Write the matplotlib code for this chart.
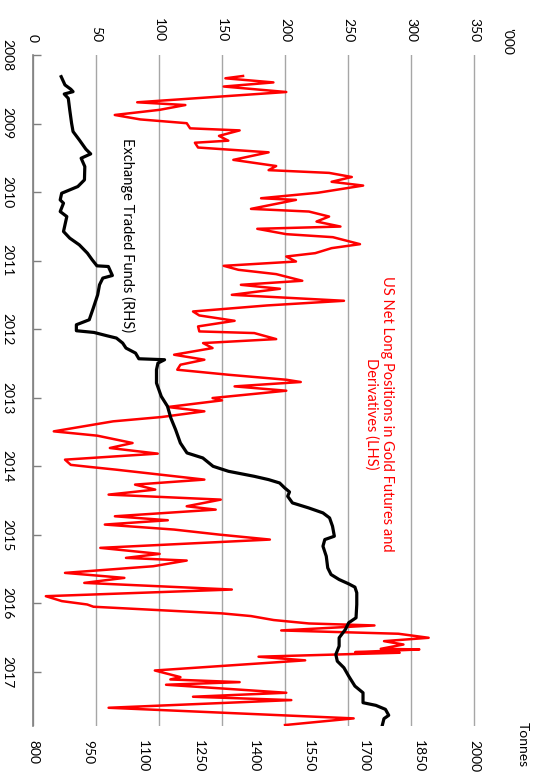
import numpy as np
import matplotlib
matplotlib.use("Agg")
import matplotlib.pyplot as plt

plt.rcParams['font.family'] = ['Lato', 'DejaVu Sans']

# US net long positions in gold futures & derivatives ('000, LHS)
red_t = [2008.306, 2008.34, 2008.40, 2008.46, 2008.54, 2008.69, 2008.73, 2008.80, 2008.875, 2008.94,
         2008.995, 2009.07, 2009.10, 2009.18, 2009.25, 2009.28, 2009.35, 2009.42, 2009.53, 2009.62,
         2009.68, 2009.72, 2009.78, 2009.85, 2009.905, 2010.01, 2010.09, 2010.114, 2010.245, 2010.284,
         2010.357, 2010.43, 2010.503, 2010.536, 2010.614, 2010.658, 2010.76, 2010.818, 2010.891, 2010.94,
         2011.013, 2011.076, 2011.134, 2011.197, 2011.294, 2011.353, 2011.411, 2011.499, 2011.586, 2011.654,
         2011.742, 2011.80, 2011.878, 2011.96, 2012.033, 2012.057, 2012.145, 2012.203, 2012.276, 2012.373,
         2012.446, 2012.519, 2012.592, 2012.665, 2012.738, 2012.771, 2012.835, 2012.898, 2013.005, 2013.039,
         2013.136, 2013.199, 2013.282, 2013.345, 2013.491, 2013.554, 2013.661, 2013.734, 2013.816, 2013.904,
         2013.98, 2014.01, 2014.05, 2014.195, 2014.268, 2014.341, 2014.414, 2014.487, 2014.584, 2014.633,
         2014.73, 2014.788, 2014.851, 2014.924, 2014.997, 2015.07, 2015.191, 2015.279, 2015.337, 2015.376,
         2015.459, 2015.556, 2015.629, 2015.702, 2015.799, 2015.896, 2015.968, 2016.017, 2016.05, 2016.147,
         2016.186, 2016.244, 2016.294, 2016.323, 2016.396, 2016.444, 2016.503, 2016.552, 2016.601, 2016.664,
         2016.673, 2016.712, 2016.721, 2016.779, 2016.832, 2016.98, 2017.077, 2017.111, 2017.15, 2017.188,
         2017.305, 2017.363, 2017.412, 2017.524, 2017.679, 2017.776]
red_v = [166.7, 152.7, 190.8, 151.4, 201, 82.7, 120.9, 100.5, 64.9, 85.2,
         122, 124.7, 164, 147.6, 155, 128.5, 131, 187, 159, 193,
         187, 235, 253, 237, 262, 226, 181, 208.7, 173, 219,
         235, 225, 244, 178, 201, 238, 259.5, 237, 224, 201,
         208.7, 151.4, 163, 193, 213.7, 165, 196, 157.8, 246.8, 185.8,
         127, 132, 160, 131, 132, 175.6, 193, 135, 142.5, 112,
         136, 117, 114.5, 155, 201, 212.5, 160, 201, 142.5, 150,
         107, 136, 102, 63.6, 16.5, 51, 79, 61, 99, 25.4,
         30, 45, 66, 136, 81, 97, 60, 149, 122, 145,
         65, 107, 57, 112, 147.6, 188, 53.4, 100.5, 73.8, 122,
         95.4, 25.4, 72.5, 40.7, 157.8, 10.2, 22.9, 43, 48, 150,
         173, 191, 219, 271, 197, 290, 314, 278.6, 294, 276,
         306.6, 255.7, 291, 179, 216, 96.7, 117, 109, 164, 105.6,
         201, 127, 205, 60, 254.5, 200]

# Exchange traded funds holdings (tonnes, RHS)
etf_t = [2008.316, 2008.437, 2008.50, 2008.535, 2008.569, 2008.632, 2008.802, 2008.996, 2009.117, 2009.239,
         2009.375, 2009.443, 2009.506, 2009.628, 2009.822, 2009.919, 2010.017, 2010.114, 2010.162, 2010.284,
         2010.357, 2010.478, 2010.575, 2010.672, 2010.77, 2010.891, 2010.988, 2011.076, 2011.086, 2011.217,
         2011.255, 2011.353, 2011.499, 2011.693, 2011.863, 2011.936, 2012.023, 2012.048, 2012.096, 2012.13,
         2012.203, 2012.276, 2012.349, 2012.432, 2012.446, 2012.495, 2012.592, 2012.786, 2012.981, 2013.126,
         2013.296, 2013.466, 2013.661, 2013.806, 2013.879, 2014.001, 2014.074, 2014.147, 2014.195, 2014.244,
         2014.317, 2014.375, 2014.438, 2014.535, 2014.608, 2014.681, 2014.754, 2014.876, 2015.021, 2015.07,
         2015.167, 2015.313, 2015.483, 2015.58, 2015.653, 2015.716, 2015.764, 2015.847, 2016.017, 2016.211,
         2016.284, 2016.382, 2016.503, 2016.625, 2016.746, 2016.844, 2016.94, 2017.062, 2017.208, 2017.305,
         2017.45, 2017.489, 2017.547, 2017.634, 2017.683, 2017.79]
etf_v = [876.7, 887, 903, 909, 885, 896, 900, 905, 909, 926,
         944, 957, 931, 941, 940, 922, 878, 874, 883, 874,
         892, 887, 883, 900, 926, 948, 961, 974, 1005, 1016,
         990, 981, 976, 964, 953, 918, 918, 966, 1001, 1027,
         1044, 1053, 1079, 1088, 1158, 1140, 1136, 1136, 1149, 1166,
         1175, 1188, 1201, 1219, 1262, 1290, 1332, 1402, 1441, 1471,
         1485, 1498, 1493, 1506, 1550, 1589, 1607, 1615, 1620, 1594,
         1589, 1598, 1602, 1611, 1633, 1659, 1676, 1681, 1681, 1679,
         1659, 1650, 1633, 1633, 1624, 1628, 1646, 1659, 1676, 1698,
         1698, 1733, 1759, 1768, 1755, 1750]

lhs_ticks = list(range(0, 351, 50))
rhs_ticks = list(range(800, 2001, 150))
years = list(range(2008, 2018))

W, H = 541, 778
x0, x350, x_edge = 33, 474, 478          # pixel columns: value 0, value 350, axes edge
stretch = (x_edge - x0) / (x350 - x0)    # extend the axes a little so the 350 gridline is inside
fig = plt.figure(figsize=(W / 100, H / 100), dpi=100)
ax = fig.add_axes([x0 / W, 1 - 726 / H, (x_edge - x0) / W, (726 - 55) / H])
axr = ax.twiny()   # tonnes axis (drawn on top), make twin first so tick sides stick

ax.set_xlim(0, 350 * stretch)
ax.set_ylim(2017.79, 2008)
ax.grid(axis='x', color='#a6a6a6', lw=1)
ax.set_axisbelow(True)
ax.plot(red_v, red_t, color='#ff0000', lw=1.8, zorder=3)
ax.xaxis.set_ticks_position('top')
ax.xaxis.set_label_position('top')
ax.set_xticks(lhs_ticks)
ax.set_xticklabels([str(v) for v in lhs_ticks], rotation=-90, fontsize=10)
ax.tick_params(axis='x', length=0, pad=9)
ax.set_yticks(years)
ax.set_yticklabels([str(y) for y in years], rotation=-90, va='center', fontsize=10)
ax.tick_params(axis='y', direction='in', length=6, width=1, color='#7f7f7f', pad=14)
for s in ['top', 'right', 'bottom']:
    ax.spines[s].set_visible(False)
ax.spines['left'].set_color('#7f7f7f')
ax.spines['left'].set_linewidth(1.2)

axr.plot(etf_v, etf_t, color='black', lw=2.3)
axr.set_xlim(800, 800 + 1200 * stretch)
axr.xaxis.set_ticks_position('bottom')
axr.xaxis.set_label_position('bottom')
axr.set_xticks(rhs_ticks)
axr.set_xticklabels([str(v) for v in rhs_ticks], rotation=-90, fontsize=10)
axr.tick_params(axis='x', length=0, pad=10)
for s in axr.spines.values():
    s.set_visible(False)

fig.text(128 / W, 1 - 235 / H, 'Exchange Traded Funds (RHS)', rotation=-90,
         ha='center', va='center', fontsize=10.5)
fig.text(379 / W, 1 - 414 / H, 'US Net Long Positions in Gold Futures and\nDerivatives (LHS)',
         rotation=-90, ha='center', va='center', multialignment='center',
         color='#ff0000', fontsize=10.5, linespacing=1.1)
fig.text(507 / W, 1 - 28 / H, "'000", rotation=-90, ha='center', va='top', fontsize=10)
fig.text(523 / W, 1 - 722 / H, 'Tonnes', rotation=-90, ha='center', va='top', fontsize=10)

fig.savefig('out.png', dpi=100)
